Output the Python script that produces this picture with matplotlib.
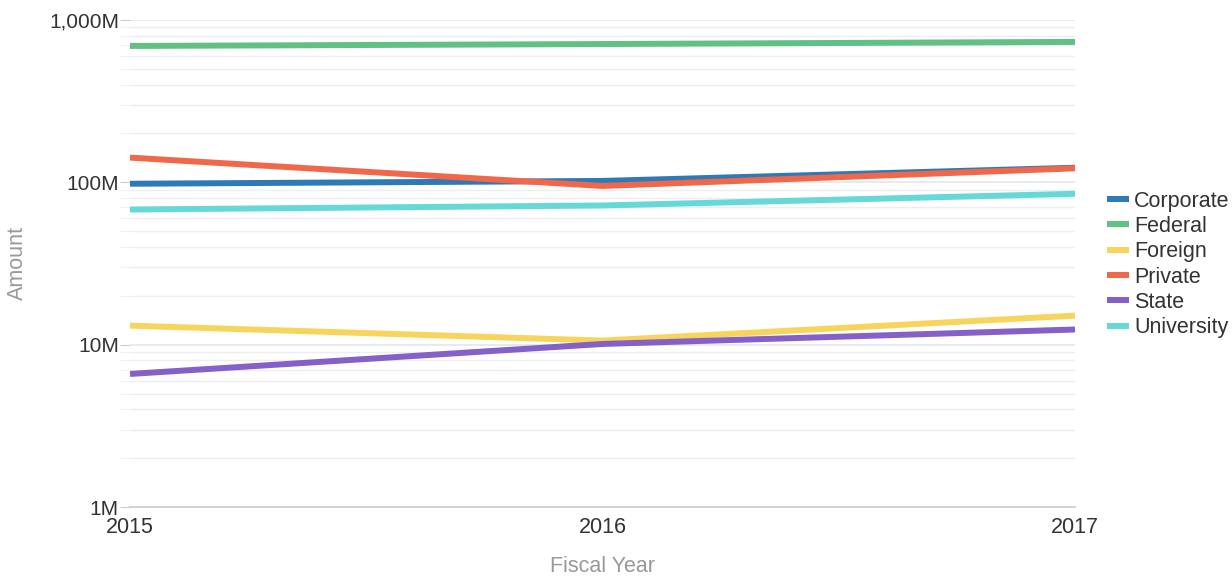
import matplotlib
matplotlib.use("Agg")
import matplotlib.pyplot as plt
from matplotlib.ticker import FixedLocator, NullFormatter

years = [2015, 2016, 2017]
series_names = ["Corporate", "Federal", "Foreign", "Private", "State", "University"]
corporate = [98e6, 102e6, 123e6]
federal = [692e6, 711e6, 733e6]
foreign = [13.1e6, 10.6e6, 15.1e6]
private = [142e6, 95e6, 122e6]
state = [6.6e6, 10.1e6, 12.4e6]
university = [68e6, 72e6, 85e6]
colors = ["#2e7ab6", "#63c083", "#f9d45c", "#f0674a", "#8460c8", "#64d9d8"]
y_ticks = [1e6, 1e7, 1e8, 1e9]
y_labels = ["1M", "10M", "100M", "1,000M"]

plt.rcParams['font.family'] = ['Liberation Sans', 'DejaVu Sans']

fig = plt.figure(figsize=(12.32, 5.8), dpi=100)
ax = fig.add_axes([130 / 1232, 1 - 507 / 580, (1075 - 130) / 1232, (507 - 20) / 580])

all_series = [corporate, federal, foreign, private, state, university]
for name, vals, c in zip(series_names, all_series, colors):
    ax.plot(years, vals, color=c, lw=4.3, label=name, solid_capstyle="butt", zorder=3)

ax.set_yscale("log")
ax.set_ylim(1e6, 1e9)
ax.set_xlim(2015, 2017)
ax.set_xticks(years)
ax.set_xticklabels([str(y) for y in years])
ax.yaxis.set_major_locator(FixedLocator(y_ticks))
ax.set_yticklabels(y_labels)
minor = [m * 10 ** e for e in range(6, 9) for m in range(2, 10)]
ax.yaxis.set_minor_locator(FixedLocator(minor))
ax.yaxis.set_minor_formatter(NullFormatter())

ax.grid(True, which="major", axis="y", color="#e3e6ec", lw=1.2)
ax.grid(True, which="minor", axis="y", color="#eceef2", lw=1.0)
for s in ["top", "right", "left"]:
    ax.spines[s].set_visible(False)
ax.spines["bottom"].set_color("#cccccc")
ax.spines["bottom"].set_linewidth(1.2)

ax.tick_params(axis="y", which="major", length=7, color="#cccccc", labelsize=15, labelcolor="#333333", pad=1)
ax.tick_params(axis="y", which="minor", length=7, color="#eceef2")
ax.tick_params(axis="x", length=0, labelsize=15.5, labelcolor="#333333", pad=7)

ax.set_xlabel("Fiscal Year", fontsize=15.5, color="#999999", labelpad=13)
ax.yaxis.set_label_coords(-102 / 945, 0.5)
ax.set_ylabel("Amount", fontsize=15.5, color="#999999")

leg = ax.legend(loc="center left", bbox_to_anchor=(1.025, 0.498), frameon=False,
                fontsize=15.5, handlelength=1.0, handletextpad=0.25, labelspacing=0.2,
                borderaxespad=0, labelcolor="#333333")

fig.savefig("out.png", dpi=100)
